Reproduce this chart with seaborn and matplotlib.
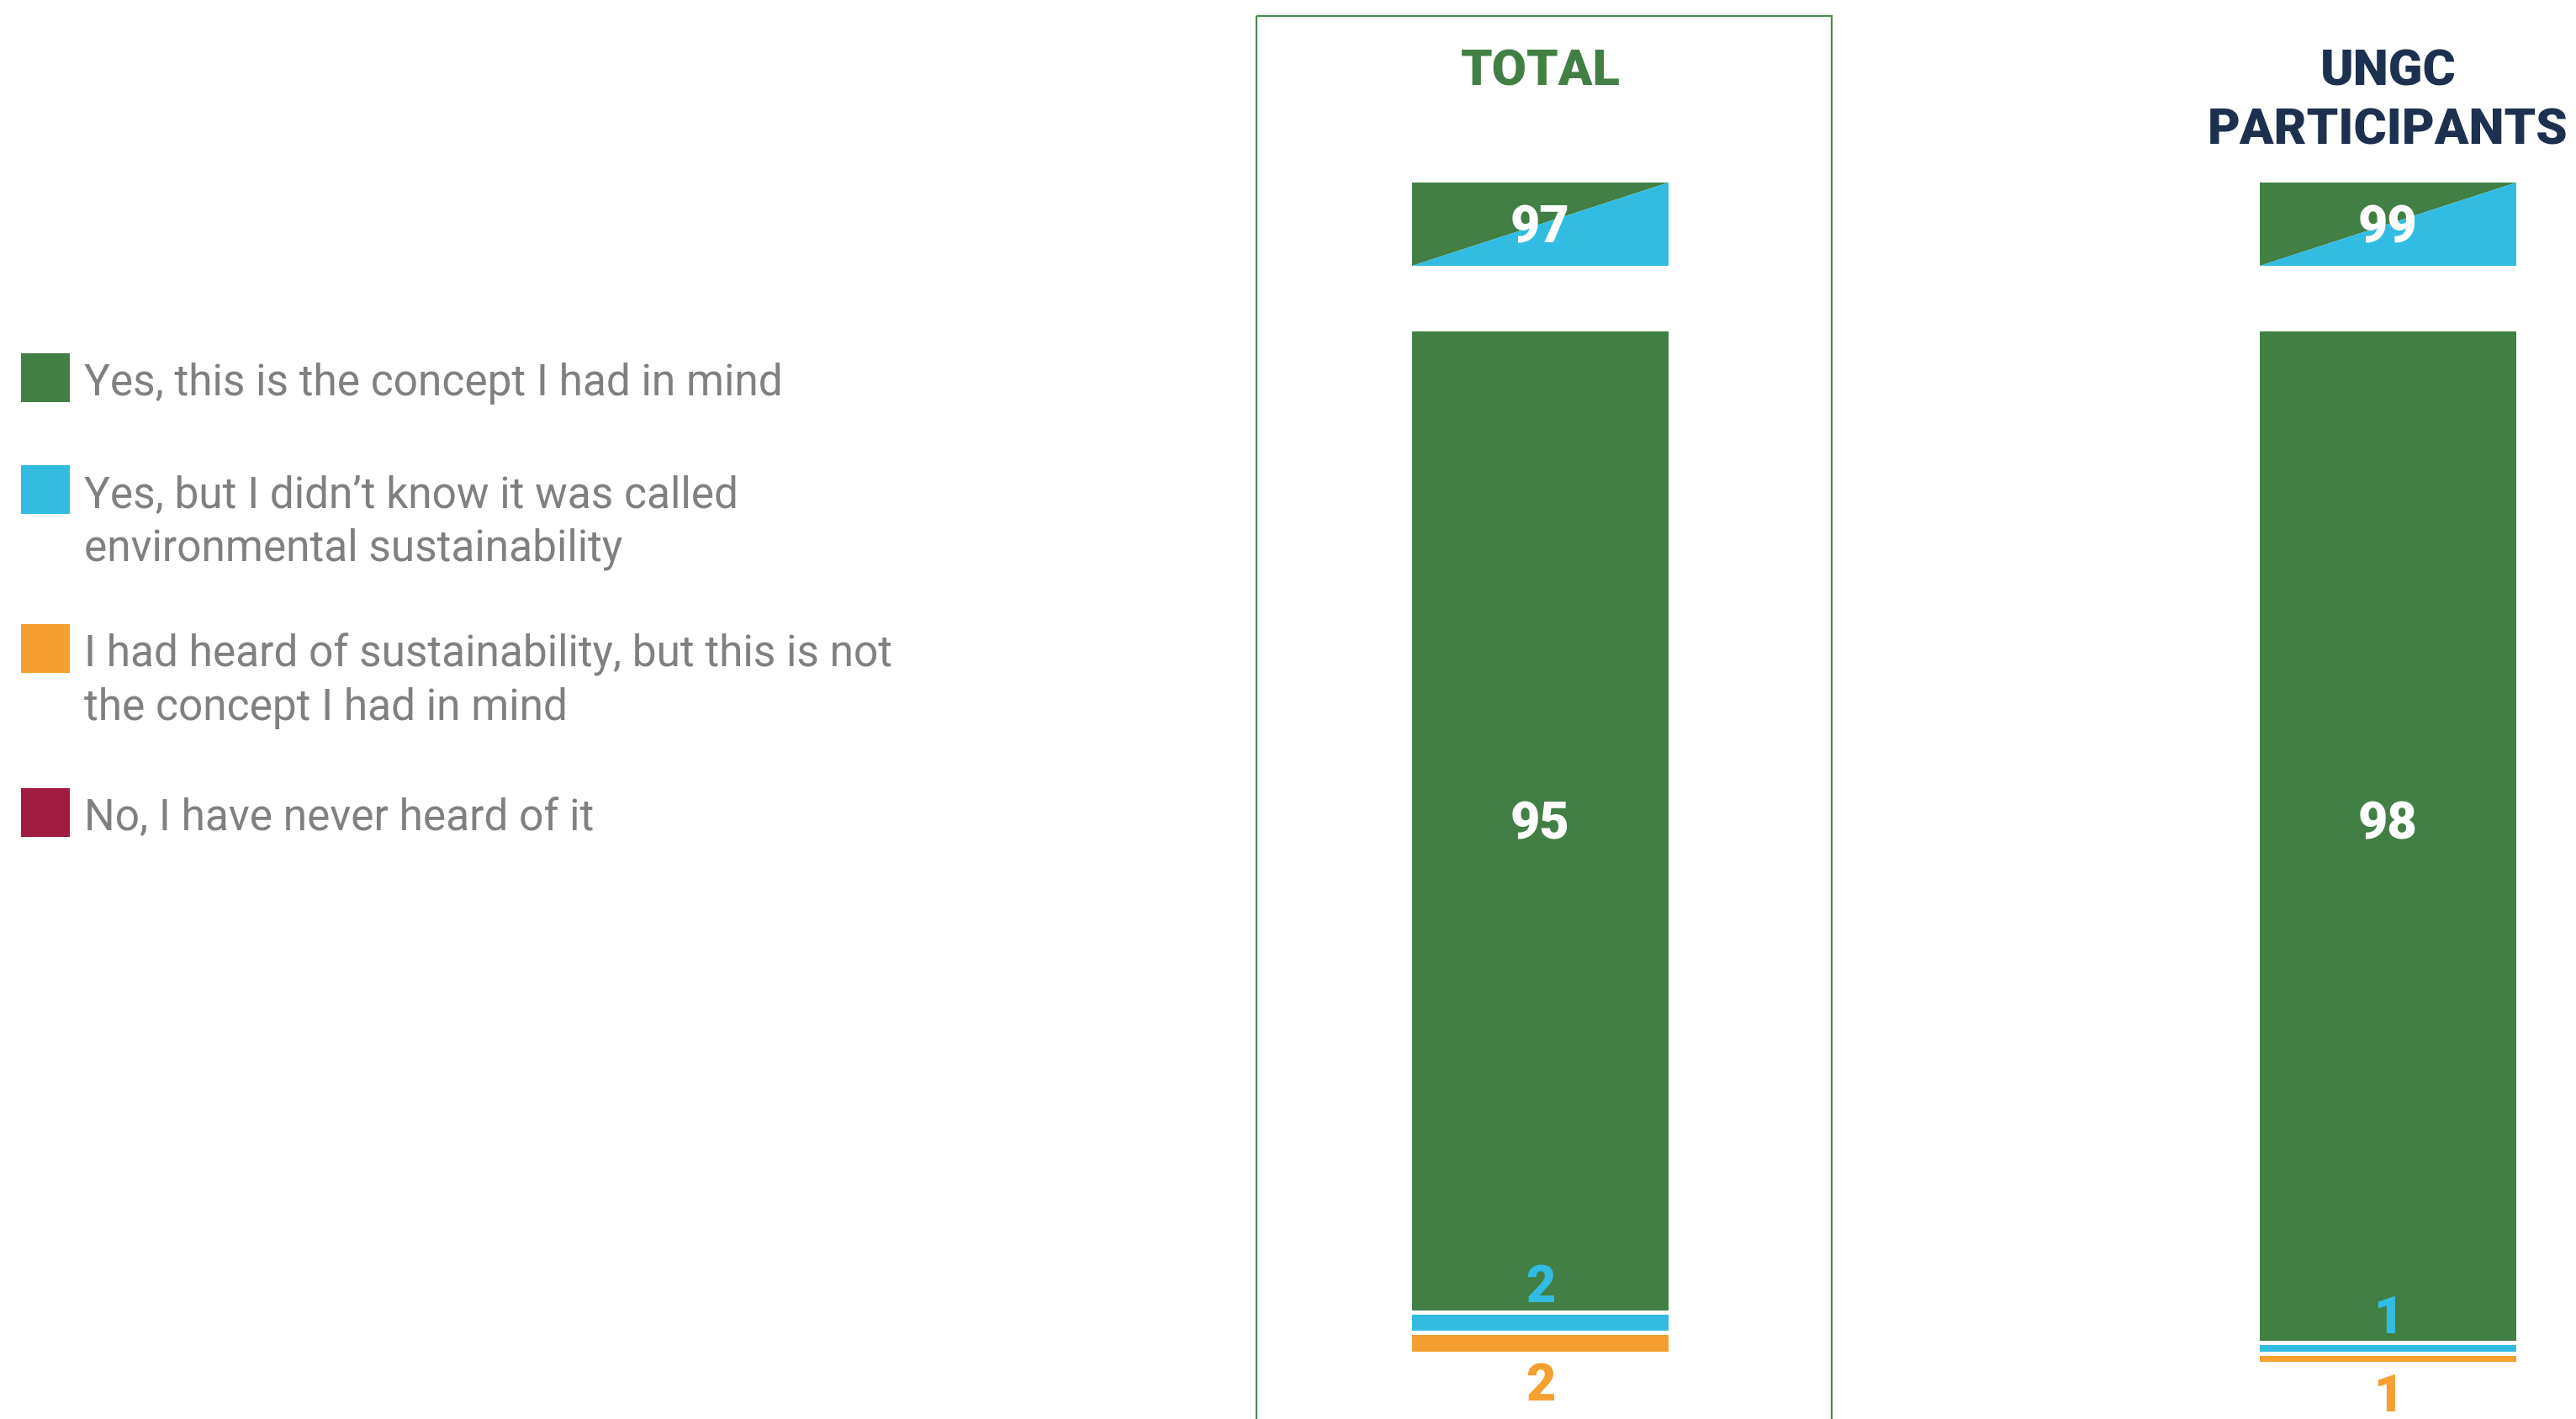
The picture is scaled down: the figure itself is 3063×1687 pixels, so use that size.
import numpy as np
import matplotlib
matplotlib.use("Agg")
import matplotlib.pyplot as plt
from matplotlib.patches import Rectangle
import seaborn as sns

# data (%)
groups = ["TOTAL", "UNGC\nPARTICIPANTS"]
yes_concept = [95, 98]
yes_not_called = [2, 1]
heard_not_concept = [2, 1]
never_heard = [0, 0]

answers = [
    "Yes, this is the concept I had in mind",
    "Yes, but I didn\u2019t know it was called\nenvironmental sustainability",
    "I had heard of sustainability, but this is not\nthe concept I had in mind",
    "No, I have never heard of it",
]
colors = ["#427f45", "#32bce2", "#f49f2f", "#a11b43"]
title_colors = ["#427f45", "#1e3050"]
text_grey = "#808080"

W, H = 3063, 1687
sns.set_theme(style="white")
plt.rcParams["font.family"] = ["Roboto", "DejaVu Sans"]

fig = plt.figure(figsize=(W / 100, H / 100), dpi=100)
ax = fig.add_axes([0, 0, 1, 1])

# layout: category spacing 1008 px, bar top at y=391 px, ~12.3 px per percent
px_x = 1008.0
x0_px = 1831.5
px_y = 12.3
y0_px = 391.0
bar_w = 305 / px_x
edge = 5  # white gap between stacked segments, px
lw = edge * 72 / 100
heavy = 900

series = [yes_concept, yes_not_called, heard_not_concept, never_heard]
bottom = np.zeros(len(groups))
for vals, col in zip(series, colors):
    vals = np.array(vals, dtype=float)
    if vals.sum() > 0:
        sns.barplot(x=groups, y=vals, bottom=bottom, color=col, saturation=1,
                    width=bar_w + edge / px_x, edgecolor="white", linewidth=lw,
                    errorbar=None, ax=ax)
    bottom = bottom + vals

# header boxes with net "yes" (diagonal split)
head_top = (217 - y0_px) / px_y
head_bot = (316 - y0_px) / px_y
net_yes = np.array(yes_concept) + np.array(yes_not_called)
for i, net in enumerate(net_yes):
    l, r = i - bar_w / 2, i + bar_w / 2
    ax.fill([l, r, l], [head_top, head_top, head_bot], color=colors[0], lw=0)
    ax.fill([r, r, l], [head_top, head_bot, head_bot], color=colors[1], lw=0)
    ax.text(i, (head_top + head_bot) / 2 + 1.8, f"{net}", ha="center", va="baseline",
            color="white", fontsize=44, fontweight=heavy)

# value labels (big numbers sit on one row)
mid_row = min(yes_concept) / 2 + 1.8
for i in range(len(groups)):
    g, b, o = yes_concept[i], yes_not_called[i], heard_not_concept[i]
    ax.text(i, mid_row, f"{g}", ha="center", va="baseline", color="white",
            fontsize=44, fontweight=heavy)
    ax.text(i, g - 0.9, f"{b}", ha="center", va="baseline", color=colors[1],
            fontsize=44, fontweight=heavy)
    ax.text(i, g + b + o + 4.6, f"{o}", ha="center", va="baseline", color=colors[2],
            fontsize=44, fontweight=heavy)

# group titles
for i, (name, tc) in enumerate(zip(groups, title_colors)):
    for k, line in enumerate(name.split("\n")):
        ax.text(i, (102 - y0_px) / px_y + k * 70 / px_y, line, ha="center",
                va="baseline", color=tc, fontsize=43, fontweight=heavy)

# outline around TOTAL column
box_l = (1494 - x0_px) / px_x
box_r = (2178 - x0_px) / px_x
ax.add_patch(Rectangle((box_l, (19 - y0_px) / px_y), box_r - box_l, 200,
                       fill=False, edgecolor="#4a8a4f", linewidth=1.6, zorder=0))

ax.set_xlim(-x0_px / px_x, (W - x0_px) / px_x)
ax.set_ylim((H - y0_px) / px_y, -y0_px / px_y)
ax.axis("off")

# legend drawn on the figure
sq_tops = [420, 553, 742, 937]
for top, lab, col in zip(sq_tops, answers, colors):
    fig.patches.append(Rectangle((25 / W, 1 - (top + 58) / H), 58 / W, 58 / H,
                                 transform=fig.transFigure, facecolor=col,
                                 edgecolor="none"))
    for k, line in enumerate(lab.split("\n")):
        fig.text(100 / W, 1 - (top + 50 + k * 64) / H, line, ha="left",
                 va="baseline", color=text_grey, fontsize=37)

fig.savefig("out.png", dpi=100, facecolor="white")
